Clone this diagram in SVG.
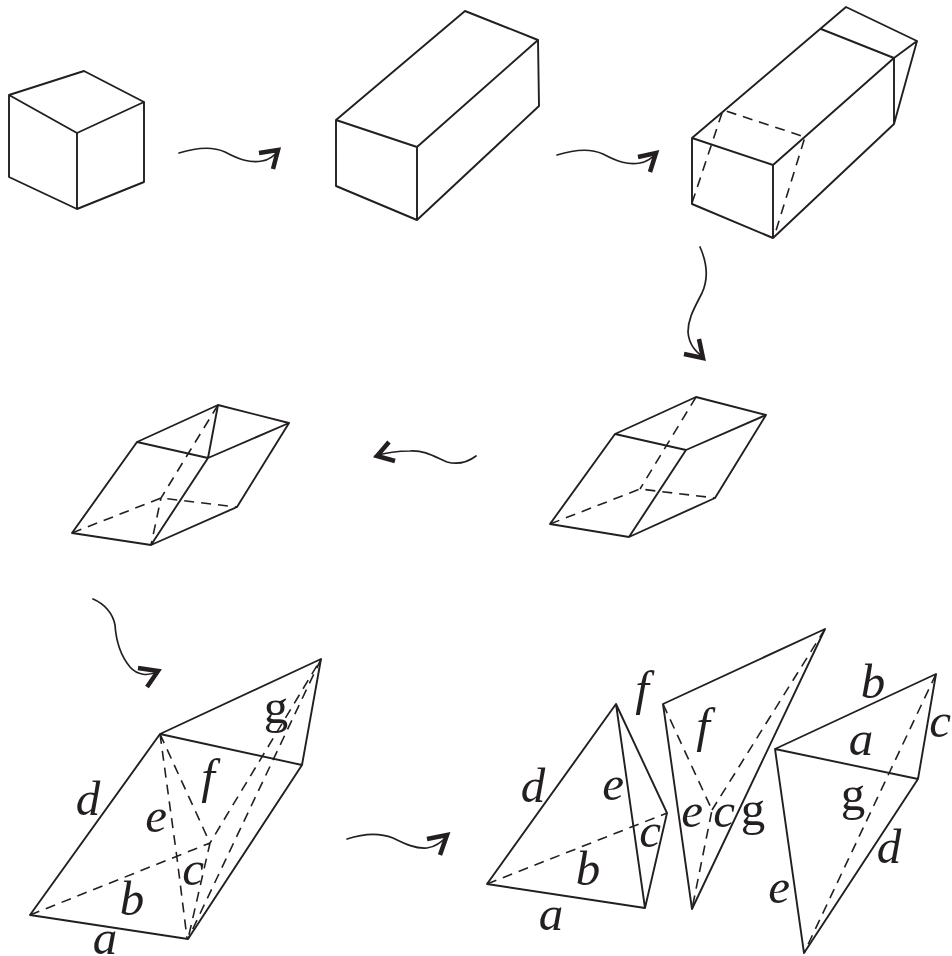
<svg xmlns="http://www.w3.org/2000/svg" width="952" height="956" viewBox="0 0 952 956">
<style>
.s{fill:none;stroke:#231f20;stroke-width:1.9;stroke-linejoin:round;stroke-linecap:round}
.d{fill:none;stroke:#231f20;stroke-width:1.6;stroke-dasharray:10 7}
.c{fill:none;stroke:#231f20;stroke-width:1.7;stroke-linecap:round}
.h{fill:none;stroke:#231f20;stroke-width:4.5}
text{font-family:"Liberation Serif","Times New Roman",serif;font-size:49px;font-style:italic;fill:#231f20;text-anchor:middle}
text.r{font-style:normal}
</style>
<rect width="952" height="956" fill="#fff"/>
<g id="connectors">
<path class="c" d="M179,153C195,148 212,146 225,152C240,160 250,163 262,161C270,160 275,155 279,150"/>
<path class="h" d="M259,153L278,150L273,169"/>
<path class="c" d="M557,155C573,150 590,148 603,154C618,162 628,165 640,163C648,162 653,157 657,153"/>
<path class="h" d="M638,157L656,153L650,172"/>
<path class="c" d="M700,247C708,265 708,280 702,293C695,307 688,318 688,332C689,345 696,352 704,358"/>
<path class="h" d="M684,354L703,358L699,339"/>
<path class="c" d="M476,456C468,462 458,465 447,462C435,457 425,450 410,451C395,451 385,453 375,456"/>
<path class="h" d="M389,442L377,456L395,461"/>
<path class="c" d="M93,599C105,604 113,614 115,625C116,640 120,655 130,667C137,675 148,677 159,671"/>
<path class="h" d="M138,668L158,671L147,687"/>
<path class="c" d="M347,839C362,834 378,832 393,838C405,844 416,849 427,848C436,847 442,842 448,835"/>
<path class="h" d="M427,839L447,835L440,855"/>
</g>
<g id="cube">
<path class="s" d="M9,95L84,71L144,102L144,182L77,209L9,177ZM9,95L77,133L144,102M77,133L77,209"/>
</g>
<g id="block">
<path class="s" d="M336,120L465,11L538,40L539,106L417,220L336,186ZM336,120L417,147L538,40M417,147L417,220"/>
</g>
<g id="block-cut">
<path class="s" d="M692,138L846,7L917,41L894,124L773,238L692,204ZM692,138L773,165L894,58L917,41M821,29L894,58L894,124M773,165L773,238"/>
<path class="d" d="M692,203L723,110L805,137L774,237"/>
</g>
<g id="prism-a">
<path class="s" d="M550,524L615,434L696,397L766,415L715,498L629,537ZM615,434L686,450L766,415M686,450L629,537"/>
<path class="d" d="M550,524L640,489L715,498M696,397L640,489"/>
</g>
<g id="prism-b">
<path class="s" d="M72,533L137,442L218,405L289,423L237,507L151,545ZM137,442L208,458L289,423M208,458L218,405M208,458L151,545"/>
<path class="d" d="M72,533L161,498L237,507M218,405L161,498L151,545"/>
</g>
<g id="split-prism">
<path class="s" d="M30,915L160,734L321,659L302,765L188,939ZM160,734L302,765"/>
<path class="d" d="M30,915L210,843L321,659M160,734L177,858L187,938M160,734L210,843L188,939M321,659L188,939"/>
<text x="88" y="815">d</text>
<text x="208" y="793">f</text>
<text x="156" y="832">e</text>
<text x="193" y="885">c</text>
<text x="132" y="915">b</text>
<text x="105" y="954">a</text>
<text class="r" x="276" y="723">g</text>
</g>
<g id="tetra-1">
<path class="s" d="M487,884L616,704L645,908ZM616,704L667,813L645,908"/>
<path class="d" d="M487,884L667,813"/>
<text x="642" y="705">f</text>
<text x="533" y="802">d</text>
<text x="613" y="800">e</text>
<text x="650" y="847">c</text>
<text x="588" y="885">b</text>
<text x="551" y="930">a</text>
</g>
<g id="tetra-2">
<path class="s" d="M663,704L825,629L692,909Z"/>
<path class="d" d="M663,704L712,810L692,909M825,629L712,810"/>
<text x="703" y="742">f</text>
<text x="692" y="827">e</text>
<text x="724" y="827">c</text>
<text class="r" x="753" y="825">g</text>
</g>
<g id="tetra-3">
<path class="s" d="M775,749L936,674L918,779L804,953ZM775,749L918,779"/>
<path class="d" d="M936,674L804,953"/>
<text x="873" y="698">b</text>
<text x="940" y="737">c</text>
<text x="861" y="755">a</text>
<text class="r" x="853" y="810">g</text>
<text x="889" y="863">d</text>
<text x="779" y="903">e</text>
</g>
</svg>
